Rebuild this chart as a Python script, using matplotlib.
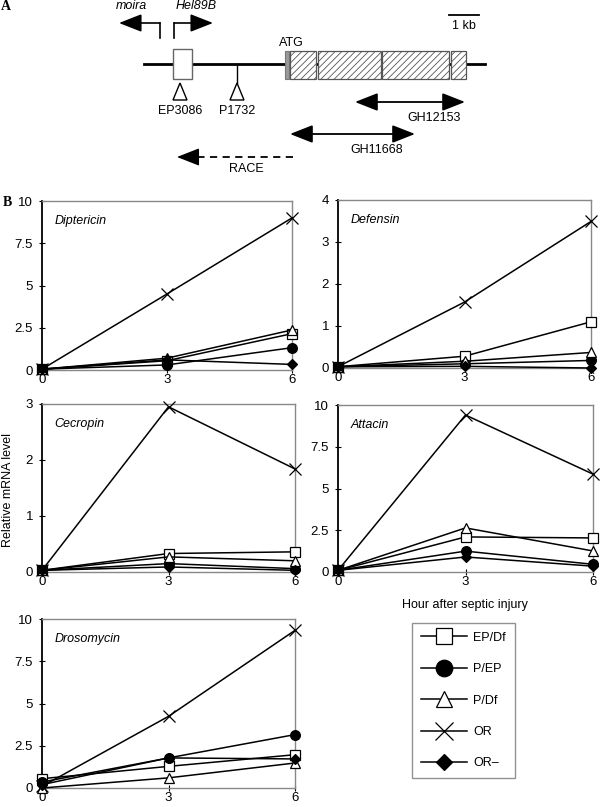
import numpy as np
import matplotlib.pyplot as plt
from matplotlib.patches import Rectangle, Polygon, FancyArrowPatch
from matplotlib.lines import Line2D
from matplotlib.ticker import FormatStrFormatter

plt.rcParams['font.family'] = ['Liberation Sans', 'DejaVu Sans']
plt.rcParams['font.size'] = 9

# ---- data (panel B) ----
hours = [0, 3, 6]
genotypes = ['EP/Df', 'P/EP', 'P/Df', 'OR', 'OR\u2013']

# one row per genotype, same order as above
diptericin = [[0.05, 0.55, 2.15], [0.05, 0.30, 1.32], [0.05, 0.70, 2.37],
              [0.05, 4.50, 9.00], [0.05, 0.60, 0.33]]
defensin = [[0.03, 0.28, 1.10], [0.03, 0.10, 0.18], [0.03, 0.16, 0.37],
            [0.03, 1.57, 3.49], [0.03, 0.04, 0.00]]
cecropin = [[0.03, 0.33, 0.36], [0.03, 0.15, 0.06], [0.03, 0.27, 0.20],
            [0.03, 2.95, 1.84], [0.03, 0.09, 0.03]]
attacin = [[0.10, 2.10, 2.04], [0.10, 1.25, 0.46], [0.10, 2.64, 1.26],
           [0.10, 9.40, 5.86], [0.10, 0.90, 0.35]]
drosomycin = [[0.55, 1.28, 1.97], [0.35, 1.78, 3.16], [0.00, 0.60, 1.48],
              [0.10, 4.24, 9.33], [0.20, 1.78, 1.72]]

genes = ['Diptericin', 'Defensin', 'Cecropin', 'Attacin', 'Drosomycin']
gene_values = [diptericin, defensin, cecropin, attacin, drosomycin]
gene_ymax = [10, 4, 3, 10, 10]
gene_ticks = [[0, 2.5, 5, 7.5, 10], [0, 1, 2, 3, 4], [0, 1, 2, 3],
              [0, 2.5, 5, 7.5, 10], [0, 2.5, 5, 7.5, 10]]

# ---- data (panel A, gene map in drawing units) ----
map_line = (144, 485)
ep_exon = (173, 192)
atg_box = (285, 289)
coding_exons = [(290, 316), (318, 381), (382, 449), (451, 466)]
insertions = {'EP3086': 180, 'P1732': 237}
cdna_clones = {'GH12153': (355, 465), 'GH11668': (290, 415)}
race = (293, 177)

markers = ['s', 'o', '^', 'x', 'D']
faces = ['white', 'black', 'white', 'black', 'black']
msizes = [6.5, 7, 6.5, 8, 5]

W, H = 600, 807
fig = plt.figure(figsize=(W / 100, H / 100), dpi=100)


def px_axes(left, right, top, bottom):
    return fig.add_axes([left / W, 1 - bottom / H, (right - left) / W, (bottom - top) / H])


# ---------------- Panel A ----------------
axA = fig.add_axes([0, 1 - 190 / H, 1, 190 / H])
axA.set_xlim(0, W)
axA.set_ylim(190, 0)
axA.axis('off')

axA.plot(map_line, [64, 64], color='black', lw=2, zorder=1)
axA.add_patch(Rectangle((ep_exon[0], 49), ep_exon[1] - ep_exon[0], 30,
                        facecolor='white', edgecolor='#666666', lw=1, zorder=2))
axA.add_patch(Rectangle((atg_box[0], 51), atg_box[1] - atg_box[0], 28,
                        facecolor='#999999', edgecolor='#777777', lw=0.8, zorder=2))
plt.rcParams['hatch.linewidth'] = 0.6
for s, e in coding_exons:
    axA.add_patch(Rectangle((s, 51), e - s, 28, facecolor='white', edgecolor='#555555',
                            hatch='/////', lw=0.9, zorder=2))

# promoters
axA.plot([160, 160], [38, 23], color='black', lw=1.2)
axA.add_patch(FancyArrowPatch((160, 23), (119, 23), arrowstyle='-|>,head_length=1.4,head_width=0.55',
                              mutation_scale=10, color='black', lw=1.2, shrinkA=0, shrinkB=0))
axA.plot([174, 174], [38, 23], color='black', lw=1.2)
axA.add_patch(FancyArrowPatch((174, 23), (213, 23), arrowstyle='-|>,head_length=1.4,head_width=0.55',
                              mutation_scale=10, color='black', lw=1.2, shrinkA=0, shrinkB=0))
axA.text(131, 6, 'moira', style='italic', ha='center', va='center')
axA.text(196, 6, 'Hel89B', style='italic', ha='center', va='center')

# scale bar
axA.plot([449, 479], [15, 15], color='black', lw=1.3)
axA.text(464, 26, '1 kb', ha='center', va='center')
axA.text(291, 43, 'ATG', ha='center', va='center')

# insertions
axA.plot([insertions['P1732']] * 2, [64, 83], color='black', lw=1)
for name, xc in insertions.items():
    axA.add_patch(Polygon([[xc, 83], [xc - 7, 100], [xc + 7, 100]], closed=True,
                          facecolor='white', edgecolor='black', lw=1))
    axA.text(xc, 111, name, ha='center', va='center')

# cDNA clones
for (name, (s, e)), yy, lx in zip(cdna_clones.items(), [102, 134], [434, 377]):
    axA.add_patch(FancyArrowPatch((s, yy), (e, yy), arrowstyle='<|-|>,head_length=1.4,head_width=0.55',
                                  mutation_scale=10, color='black', lw=1.3, shrinkA=0, shrinkB=0))
    axA.text(lx, yy + 16, name, ha='center', va='center')

# RACE
axA.plot([race[0], race[1] + 15], [157, 157], color='black', lw=1.3, ls=(0, (4, 3)))
axA.add_patch(FancyArrowPatch((race[1] + 16, 157), (race[1], 157),
                              arrowstyle='-|>,head_length=1.4,head_width=0.55',
                              mutation_scale=10, color='black', lw=1.0, shrinkA=0, shrinkB=0))
axA.text(246, 169, 'RACE', ha='center', va='center')

fig.text(6 / W, 1 - 6 / H, 'A', family='Liberation Serif', weight='bold', fontsize=10,
         ha='center', va='center')
fig.text(7 / W, 1 - 202 / H, 'B', family='Liberation Serif', weight='bold', fontsize=10,
         ha='center', va='center')

# ---------------- Panel B ----------------
boxes = [(42, 292, 201, 370), (338, 591, 200, 368), (42, 295, 404, 572),
         (338, 593, 405, 572), (42, 295, 619, 788)]

for gene, vals, ymax, ticks, box in zip(genes, gene_values, gene_ymax, gene_ticks, boxes):
    ax = px_axes(*box)
    for i, g in enumerate(genotypes):
        ax.plot(hours, vals[i], color='black', lw=1.1, marker=markers[i], ms=msizes[i],
                mfc=faces[i], mec='black', mew=0.9, clip_on=False, zorder=3 + (i == 3))
    ax.set_xlim(0, 6)
    ax.set_ylim(0, ymax)
    ax.set_xticks(hours)
    ax.set_yticks(ticks)
    ax.yaxis.set_major_formatter(FormatStrFormatter('%g'))
    ax.tick_params(axis='y', direction='inout', length=5, width=0.8, pad=4, labelsize=9.5,
                   colors='black')
    ax.tick_params(axis='x', direction='inout', length=5, width=0.8, pad=0.5, labelsize=9.5)
    for side in ['top', 'right', 'bottom']:
        ax.spines[side].set_color('#888888')
        ax.spines[side].set_linewidth(1.0)
    ax.spines['left'].set_color('black')
    ax.spines['left'].set_linewidth(1.3)
    ax.text(0.05, 0.88, gene, style='italic', transform=ax.transAxes, ha='left', va='center',
            fontsize=9)

fig.text(8 / W, 1 - 490 / H, 'Relative mRNA level', rotation=90, ha='center', va='center')
fig.text(465 / W, 1 - 605 / H, 'Hour after septic injury', ha='center', va='center')

handles = [Line2D([], [], color='black', lw=1.1, marker=markers[i], ms=msizes[i],
                  mfc=faces[i], mec='black', mew=0.9) for i in range(len(genotypes))]
leg = fig.legend(handles, genotypes, loc='upper left', bbox_to_anchor=(412 / W, 1 - 623 / H),
                 frameon=True, fancybox=False, edgecolor='#777777', handlelength=3.7,
                 labelspacing=1.55, borderpad=0.7, markerscale=1.7, handletextpad=0.5,
                 fontsize=9, borderaxespad=0)
leg.get_frame().set_linewidth(1.0)

fig.savefig('out.png', dpi=100)
